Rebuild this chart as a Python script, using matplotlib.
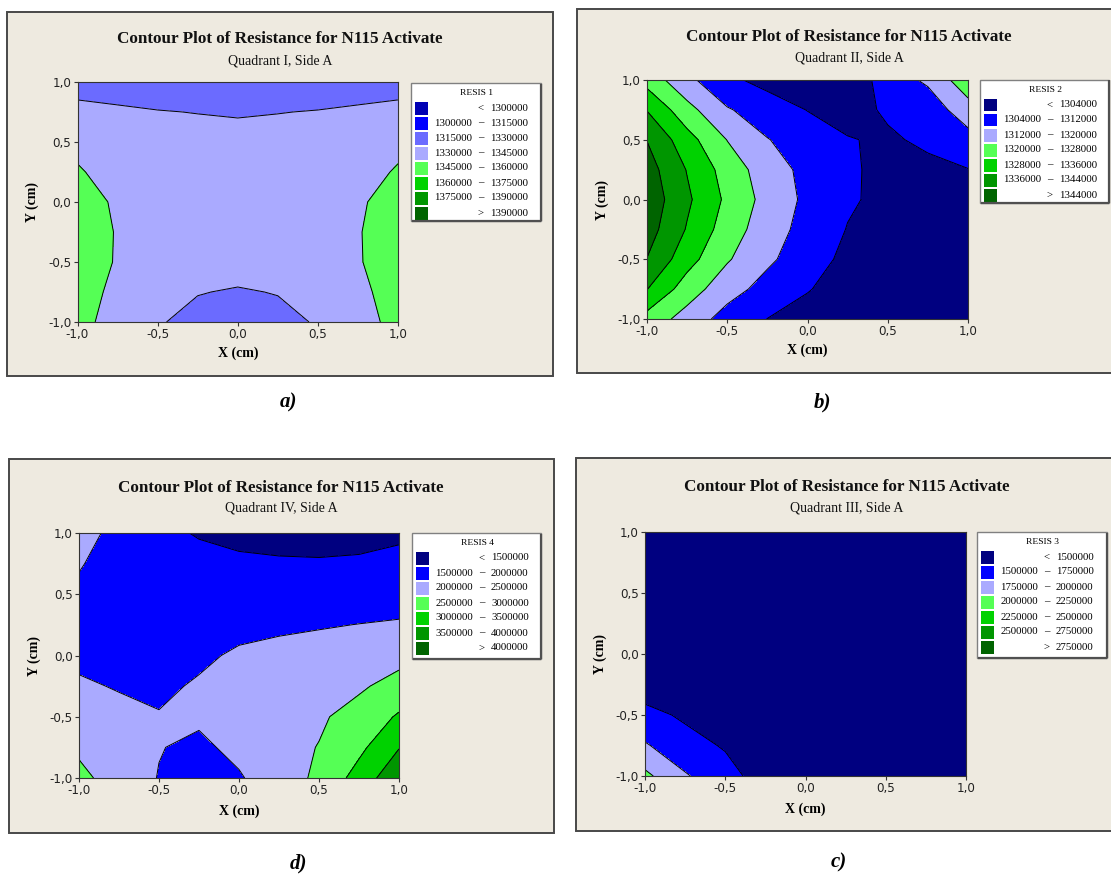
import numpy as np
import matplotlib
matplotlib.use('Agg')
import matplotlib.pyplot as plt
from matplotlib.patches import Rectangle

W, H = 1111, 874

# ---------------- data ----------------
grid_x = [-1.0, -0.75, -0.5, -0.25, 0.0, 0.25, 0.5, 0.75, 1.0]
grid_y = [-1.0, -0.75, -0.5, -0.25, 0.0, 0.25, 0.5, 0.75, 1.0]
ticks = [-1.0, -0.5, 0.0, 0.5, 1.0]
tick_labels = ['-1,0', '-0,5', '0,0', '0,5', '1,0']

# Quadrant I (kOhm), rows from y=-1 to y=1, columns x=-1 .. 1
resis1_k = [
    [1348.0, 1341.2, 1331.0, 1326.5, 1325.0, 1326.5, 1331.0, 1341.2, 1348.0],
    [1350.0, 1342.2, 1334.0, 1330.5, 1329.0, 1330.5, 1334.0, 1342.2, 1350.0],
    [1352.0, 1344.0, 1338.5, 1336.5, 1335.0, 1336.5, 1338.5, 1344.0, 1352.0],
    [1352.0, 1344.2, 1339.5, 1338.0, 1337.5, 1338.0, 1339.5, 1344.2, 1352.0],
    [1350.0, 1343.4, 1339.0, 1337.5, 1337.0, 1337.5, 1339.0, 1343.4, 1350.0],
    [1346.5, 1339.0, 1337.0, 1336.0, 1336.0, 1336.0, 1337.0, 1339.0, 1346.5],
    [1341.0, 1337.0, 1335.0, 1334.5, 1334.0, 1334.5, 1335.0, 1337.0, 1341.0],
    [1332.7, 1331.7, 1330.5, 1329.7, 1329.0, 1329.7, 1330.5, 1331.7, 1332.7],
    [1326.0, 1324.5, 1323.0, 1322.0, 1321.0, 1322.0, 1323.0, 1324.5, 1326.0],
]
levels1 = [1300000, 1315000, 1330000, 1345000, 1360000, 1375000, 1390000]

# Quadrant II (kOhm)
resis2_k = [
    [1325.0, 1316.7, 1308.9, 1303.9, 1300.0, 1297.0, 1295.0, 1293.0, 1292.0],
    [1336.2, 1324.0, 1315.1, 1309.2, 1304.6, 1299.5, 1296.5, 1294.0, 1293.0],
    [1343.8, 1331.1, 1320.8, 1313.4, 1307.7, 1302.0, 1298.0, 1296.0, 1295.0],
    [1347.5, 1335.4, 1324.2, 1315.6, 1309.3, 1303.7, 1300.0, 1298.5, 1297.0],
    [1349.2, 1337.4, 1326.4, 1317.2, 1310.3, 1305.0, 1302.0, 1301.0, 1300.0],
    [1347.5, 1335.6, 1324.6, 1315.8, 1309.8, 1305.1, 1302.0, 1301.5, 1303.8],
    [1343.8, 1331.1, 1319.8, 1312.3, 1308.4, 1304.6, 1302.5, 1306.0, 1309.0],
    [1335.7, 1322.7, 1312.7, 1308.1, 1303.8, 1300.0, 1305.5, 1307.5, 1316.5],
    [1325.0, 1314.0, 1305.7, 1301.5, 1299.0, 1298.0, 1308.0, 1313.3, 1325.3],
]
levels2 = [1304000, 1312000, 1320000, 1328000, 1336000, 1344000]

# Quadrant IV (MOhm)
resis4_m = [
    [2.62, 2.29, 1.98, 1.80, 1.95, 2.30, 2.578, 3.20, 3.88],
    [2.42, 2.22, 2.02, 1.90, 2.13, 2.30, 2.52, 2.88, 3.48],
    [2.25, 2.12, 2.03, 2.08, 2.22, 2.35, 2.42, 2.72, 3.05],
    [2.06, 1.97, 1.90, 2.06, 2.22, 2.30, 2.35, 2.415, 2.72],
    [1.90, 1.82, 1.80, 1.90, 2.08, 2.17, 2.21, 2.25, 2.30],
    [1.97, 1.88, 1.82, 1.80, 1.84, 1.90, 1.96, 2.01, 2.05],
    [1.95, 1.85, 1.78, 1.73, 1.68, 1.66, 1.67, 1.72, 1.78],
    [2.02, 1.88, 1.80, 1.75, 1.58, 1.55, 1.54, 1.56, 1.66],
    [2.15, 1.88, 1.70, 1.437, 1.38, 1.35, 1.34, 1.36, 1.40],
]
levels4 = [1500000, 2000000, 2500000, 3000000, 3500000, 4000000]

# Quadrant III (MOhm)
resis3_m = [
    [2.06, 1.77, 1.62, 1.35, 1.22, 1.12, 1.05, 1.00, 0.96],
    [1.77, 1.62, 1.47, 1.25, 1.15, 1.08, 1.02, 0.98, 0.95],
    [1.60, 1.45, 1.33, 1.20, 1.10, 1.04, 1.00, 0.96, 0.93],
    [1.32, 1.26, 1.18, 1.10, 1.04, 0.99, 0.96, 0.93, 0.91],
    [1.18, 1.13, 1.08, 1.03, 0.99, 0.95, 0.92, 0.90, 0.89],
    [1.08, 1.05, 1.01, 0.98, 0.95, 0.92, 0.90, 0.88, 0.87],
    [1.02, 0.99, 0.96, 0.94, 0.92, 0.90, 0.88, 0.87, 0.86],
    [0.97, 0.95, 0.93, 0.91, 0.90, 0.88, 0.87, 0.86, 0.85],
    [0.94, 0.92, 0.91, 0.89, 0.88, 0.87, 0.86, 0.85, 0.85],
]
levels3 = [1500000, 1750000, 2000000, 2250000, 2500000, 2750000]

title = 'Contour Plot of Resistance for N115 Activate'
subtitles = ['Quadrant I, Side A', 'Quadrant II, Side A', 'Quadrant IV, Side A', 'Quadrant III, Side A']
legend_titles = ['RESIS 1', 'RESIS 2', 'RESIS 4', 'RESIS 3']
panel_labels = ['a)', 'b)', 'd)', 'c)']

pal8 = ['#0000B4', '#0000FF', '#6B6BFF', '#AAAAFF', '#55FF55', '#00D200', '#009600', '#006400']
pal7 = ['#000080', '#0000FF', '#AAAAFF', '#55FF55', '#00D200', '#009600', '#006400']

# ---------------- layout (pixels, origin top-left) ----------------
BG = '#EEEAE0'
SERIF = 'Liberation Serif'
panels = [
    dict(Z=np.array(resis1_k) * 1000, lev=levels1, pal=pal8,
         frame=(7, 12, 553, 376), plot=(77.5, 82, 398, 322), leg=(411, 83, 541, 221),
         tx=280, ty=39, sy=61, ylx=32, xly=353, lab=(289, 402)),
    dict(Z=np.array(resis2_k) * 1000, lev=levels2, pal=pal7,
         frame=(577, 9, 1121, 373), plot=(647, 80, 968, 319), leg=(980, 80, 1109, 203),
         tx=849, ty=37, sy=58, ylx=602, xly=350, lab=(822, 402)),
    dict(Z=np.array(resis4_m) * 1e6, lev=levels4, pal=pal7,
         frame=(9, 459, 554, 833), plot=(79, 533, 399, 778), leg=(412, 533, 541, 659),
         tx=281, ty=488, sy=508, ylx=34, xly=811, lab=(298, 863)),
    dict(Z=np.array(resis3_m) * 1e6, lev=levels3, pal=pal7,
         frame=(576, 458, 1118, 831), plot=(645, 532, 966, 776), leg=(977, 532, 1107, 658),
         tx=847, ty=487, sy=508, ylx=600, xly=809, lab=(839, 862)),
]


def frac_rect(x0, y0, x1, y1):
    return [x0 / W, 1 - y1 / H, (x1 - x0) / W, (y1 - y0) / H]


fig = plt.figure(figsize=(W / 100, H / 100), dpi=100)
fig.patch.set_facecolor('white')

for i, p in enumerate(panels):
    fx0, fy0, fx1, fy1 = p['frame']
    fig.add_artist(Rectangle((fx0 / W, 1 - fy1 / H), (fx1 - fx0) / W, (fy1 - fy0) / H,
                             transform=fig.transFigure, facecolor=BG,
                             edgecolor='#484848', lw=1.4, zorder=0))
    fig.text(p['tx'] / W, 1 - p['ty'] / H, title, ha='center', va='center',
             fontsize=12.3, fontweight='bold', family=SERIF, color='#111111')
    fig.text(p['tx'] / W, 1 - p['sy'] / H, subtitles[i], ha='center', va='center',
             fontsize=10, family=SERIF, color='#111111')

    ax = fig.add_axes(frac_rect(*p['plot']))
    lev = p['lev']
    ax.contourf(grid_x, grid_y, p['Z'], levels=lev, colors=p['pal'], extend='both')
    ax.contour(grid_x, grid_y, p['Z'], levels=lev, colors='black', linewidths=0.7)
    ax.set_xlim(-1, 1)
    ax.set_ylim(-1, 1)
    ax.set_xticks(ticks)
    ax.set_yticks(ticks)
    ax.set_xticklabels(tick_labels, family='DejaVu Sans', fontsize=8.6, color='#222222')
    ax.set_yticklabels(tick_labels, family='DejaVu Sans', fontsize=8.6, color='#222222')
    ax.tick_params(length=3, width=0.8, pad=1.5, color='#333333')
    for s in ax.spines.values():
        s.set_linewidth(0.8)
        s.set_color('#333333')

    px0, py0, px1, py1 = p['plot']
    fig.text((px0 + px1) / 2 / W, 1 - p['xly'] / H, 'X (cm)', ha='center', va='center',
             fontsize=10, fontweight='bold', family=SERIF)
    fig.text(p['ylx'] / W, 1 - (py0 + py1) / 2 / H, 'Y (cm)', ha='center', va='center',
             rotation=90, fontsize=10, fontweight='bold', family=SERIF)

    # legend box
    lx0, ly0, lx1, ly1 = p['leg']
    lw_, lh_ = lx1 - lx0, ly1 - ly0
    lax = fig.add_axes(frac_rect(*p['leg']))
    lax.set_xlim(0, lw_)
    lax.set_ylim(lh_, 0)
    lax.axis('off')
    lax.add_patch(Rectangle((0, 0), lw_, lh_, facecolor='white', edgecolor='#808080',
                            lw=1.0, clip_on=False))
    lax.plot([lw_, lw_], [0.5, lh_], color='#505050', lw=1.6, clip_on=False,
             solid_capstyle='butt')
    lax.plot([0.5, lw_], [lh_, lh_], color='#505050', lw=1.6, clip_on=False,
             solid_capstyle='butt')
    lax.text(lw_ / 2 + 1, 10, legend_titles[i], ha='center', va='center',
             fontsize=6.8, family=SERIF)
    n = len(lev) + 1
    step = (lh_ - 28) / (n - 1) if n > 1 else 15
    step = min(step, 15)
    for k in range(n):
        yc = 25 + k * step
        lax.add_patch(Rectangle((4, yc - 6), 12.5, 12.5, facecolor=p['pal'][k],
                                edgecolor='none'))
        if k == 0:
            lax.text(70, yc, '<', ha='center', va='center', fontsize=7.8, family=SERIF)
            lax.text(79, yc, f'{lev[0]}', ha='left', va='center', fontsize=7.8, family=SERIF)
        elif k == n - 1:
            lax.text(70, yc, '>', ha='center', va='center', fontsize=7.8, family=SERIF)
            lax.text(79, yc, f'{lev[-1]}', ha='left', va='center', fontsize=7.8, family=SERIF)
        else:
            lax.text(61, yc, f'{lev[k - 1]}', ha='right', va='center', fontsize=7.8, family=SERIF)
            lax.text(70, yc, '\u2013', ha='center', va='center', fontsize=7.8, family=SERIF)
            lax.text(79, yc, f'{lev[k]}', ha='left', va='center', fontsize=7.8, family=SERIF)

    fig.text(p['lab'][0] / W, 1 - p['lab'][1] / H, panel_labels[i], ha='center', va='center',
             fontsize=15, fontweight='bold', style='italic', family=SERIF)

fig.savefig('out.png', dpi=100, facecolor='white')
